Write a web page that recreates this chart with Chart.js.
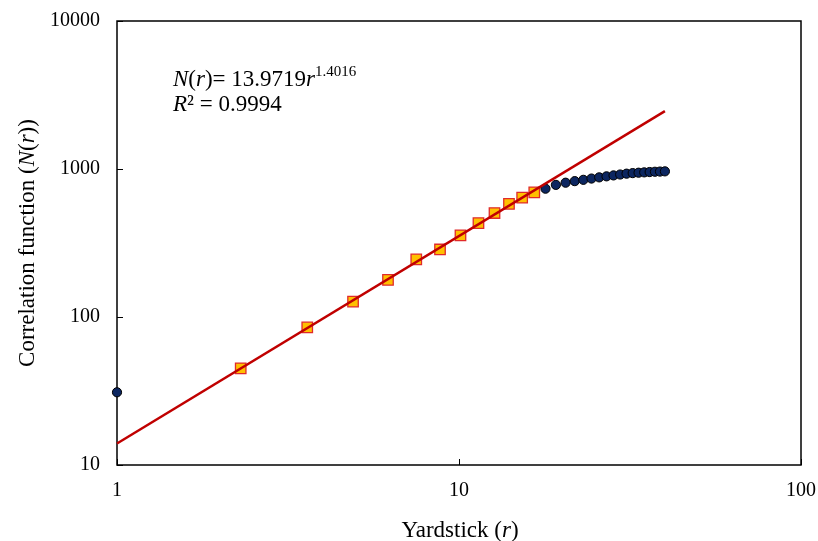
<!DOCTYPE html>
<html lang="en">
<head>
  <meta charset="UTF-8">
  <title>Correlation function vs yardstick</title>
  <script src="https://cdn.jsdelivr.net/npm/chart.js"></script>
  <style>
    body {
      margin: 0;
      background: #fff;
    }
    canvas {
      display: block;
    }
  </style>
</head>
<body>

<canvas id="chart" width="818" height="541"></canvas>

<script>
// points used in the power-law fit (orange squares)
const rFit = [2.3, 3.6, 4.9, 6.2, 7.5, 8.8, 10.1, 11.4, 12.7, 14.0, 15.3, 16.6];
const nFit = [45, 85, 127, 178, 245, 286, 356, 431, 504, 581, 640, 696];

// remaining points (navy circles)
const rOther = [1, 17.9, 19.2, 20.5, 21.8, 23.1, 24.4, 25.7, 27.0, 28.3, 29.6, 30.9, 32.2, 33.5, 34.8, 36.1, 37.4, 38.7, 40.0];
const nOther = [31, 736, 781, 808, 828, 845, 862, 878, 892, 905, 918, 930, 938, 944, 949, 954, 958, 961, 964];

// trend line end points
const rTrend = [1, 40];
const nTrend = [13.97, 2459];

const xTicks = [1, 10, 100];
const yTicks = [10, 100, 1000, 10000];

const SERIF = "'Liberation Serif', 'Times New Roman', serif";

function pts(xs, ys) {
  return xs.map((x, i) => ({ x: x, y: ys[i] }));
}

// draw a run of text pieces, each with its own font and baseline shift
function drawRich(ctx, parts, x, y) {
  let cx = x;
  parts.forEach(p => {
    ctx.font = p.font;
    ctx.fillText(p.text, cx, y + (p.dy || 0));
    cx += ctx.measureText(p.text).width;
  });
  return cx - x;
}

function richWidth(ctx, parts) {
  let w = 0;
  parts.forEach(p => {
    ctx.font = p.font;
    w += ctx.measureText(p.text).width;
  });
  return w;
}

const framePlugin = {
  id: 'frame',
  beforeDatasetsDraw(chart) {
    const { ctx, chartArea: a, scales } = chart;
    ctx.save();
    ctx.strokeStyle = '#000';
    ctx.lineWidth = 1.5;
    ctx.strokeRect(a.left, a.top, a.right - a.left, a.bottom - a.top);
    // small inward tick marks
    ctx.lineWidth = 1;
    ctx.beginPath();
    xTicks.forEach(v => {
      const px = Math.round(scales.x.getPixelForValue(v)) + 0.5;
      ctx.moveTo(px, a.bottom);
      ctx.lineTo(px, a.bottom - 6);
    });
    yTicks.forEach(v => {
      const py = Math.round(scales.y.getPixelForValue(v)) + 0.5;
      ctx.moveTo(a.left, py);
      ctx.lineTo(a.left + 6, py);
    });
    ctx.stroke();
    ctx.restore();
  },
  afterDraw(chart) {
    const { ctx, chartArea: a } = chart;
    ctx.save();
    ctx.fillStyle = '#000';
    ctx.textBaseline = 'alphabetic';
    ctx.textAlign = 'left';

    const big = '23px ' + SERIF;
    const bigI = 'italic 23px ' + SERIF;
    const sup = '15px ' + SERIF;

    // equation
    drawRich(ctx, [
      { text: 'N', font: bigI },
      { text: '(', font: big },
      { text: 'r', font: bigI },
      { text: ')= 13.9719', font: big },
      { text: 'r', font: bigI },
      { text: '1.4016', font: sup, dy: -10 }
    ], 173, 86);
    drawRich(ctx, [
      { text: 'R', font: bigI },
      { text: '² = 0.9994', font: big }
    ], 173, 111);

    // x axis title
    const xt = [
      { text: 'Yardstick (', font: big },
      { text: 'r', font: bigI },
      { text: ')', font: big }
    ];
    const xw = richWidth(ctx, xt);
    drawRich(ctx, xt, (a.left + a.right) / 2 - xw / 2 + 1, 537);

    // y axis title
    const yt = [
      { text: 'Correlation function (', font: big },
      { text: 'N', font: bigI },
      { text: '(', font: big },
      { text: 'r', font: bigI },
      { text: '))', font: big }
    ];
    const yw = richWidth(ctx, yt);
    ctx.translate(34, (a.top + a.bottom) / 2);
    ctx.rotate(-Math.PI / 2);
    drawRich(ctx, yt, -yw / 2, 0);
    ctx.restore();
  }
};

const ctx = document.getElementById('chart').getContext('2d');

new Chart(ctx, {
  type: 'scatter',
  data: {
    datasets: [
      {
        label: 'trend',
        data: pts(rTrend, nTrend),
        showLine: true,
        borderColor: '#C00000',
        borderWidth: 2.5,
        pointRadius: 0,
        clip: false,
        order: 0
      },
      {
        label: 'fit points',
        data: pts(rFit, nFit),
        pointStyle: 'rect',
        pointRadius: 7.4,
        backgroundColor: '#FFC000',
        borderColor: '#E02A2A',
        borderWidth: 1.3,
        clip: false,
        order: 1
      },
      {
        label: 'other points',
        data: pts(rOther, nOther),
        pointStyle: 'circle',
        pointRadius: 4.6,
        backgroundColor: '#0C2660',
        borderColor: '#000',
        borderWidth: 1,
        clip: false,
        order: 2
      }
    ]
  },
  options: {
    responsive: false,
    animation: false,
    layout: { padding: { left: 0, top: 21, right: 17, bottom: 0 } },
    plugins: {
      legend: { display: false },
      tooltip: { enabled: false }
    },
    scales: {
      x: {
        type: 'logarithmic',
        min: 1,
        max: 100,
        afterBuildTicks: s => { s.ticks = xTicks.map(v => ({ value: v })); },
        afterFit: s => {
          s.height = 76;
          s.paddingLeft = 0;
          s.paddingRight = 0;
        },
        grid: { display: false, drawTicks: false },
        border: { display: false },
        ticks: {
          autoSkip: false,
          maxRotation: 0,
          padding: 14,
          color: '#000',
          font: { family: SERIF, size: 20 },
          callback: v => String(v)
        }
      },
      y: {
        type: 'logarithmic',
        min: 10,
        max: 10000,
        afterBuildTicks: s => { s.ticks = yTicks.map(v => ({ value: v })); },
        afterFit: s => {
          s.width = 117;
          s.paddingTop = 0;
          s.paddingBottom = 0;
        },
        grid: { display: false, drawTicks: false },
        border: { display: false },
        ticks: {
          autoSkip: false,
          padding: 17,
          color: '#000',
          font: { family: SERIF, size: 20 },
          callback: v => String(v)
        }
      }
    }
  },
  plugins: [framePlugin]
});
</script>

</body>
</html>
